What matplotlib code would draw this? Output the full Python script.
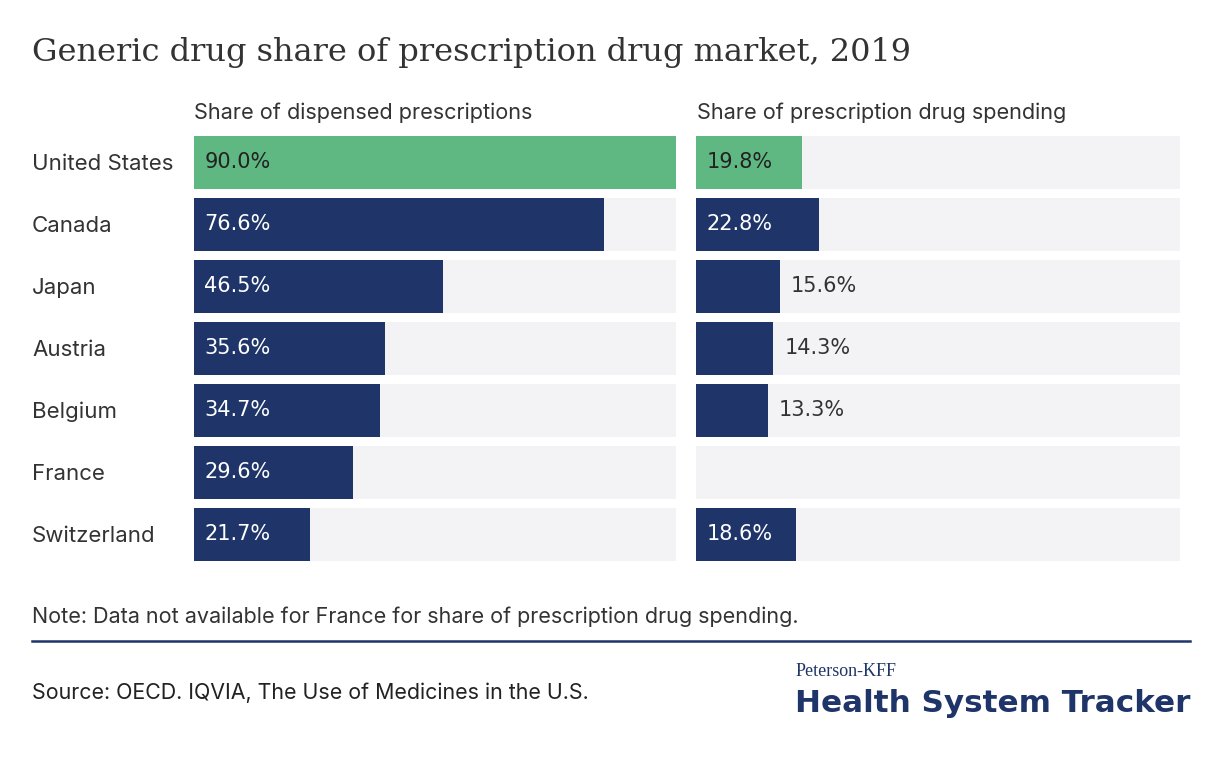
import matplotlib.pyplot as plt

countries = ['United States', 'Canada', 'Japan', 'Austria', 'Belgium', 'France', 'Switzerland']
dispensed = [90.0, 76.6, 46.5, 35.6, 34.7, 29.6, 21.7]
spending = [19.8, 22.8, 15.6, 14.3, 13.3, None, 18.6]

GREEN = '#5fb882'
NAVY = '#1f3569'
TRACK = '#f3f2f5'
TEXT = '#333333'
SANS = 'Inter'

W, H = 1220, 772
fig = plt.figure(figsize=(W / 100, H / 100), dpi=100)
fig.patch.set_facecolor('white')


def px_axes(x0, y0, x1, y1):
    return fig.add_axes([x0 / W, 1 - y1 / H, (x1 - x0) / W, (y1 - y0) / H])


def fy(y):
    return 1 - y / H


bar_h = 53 / 62
n = len(countries)


def panel(ax, values):
    ax.set_xlim(0, 90)
    ax.set_ylim(n - 1 + bar_h / 2, -bar_h / 2)
    ax.axis('off')
    for i, v in enumerate(values):
        ax.barh(i, 90, height=bar_h, color=TRACK, linewidth=0)
        if v is None:
            continue
        col = GREEN if i == 0 else NAVY
        ax.barh(i, v, height=bar_h, color=col, linewidth=0)
        if v >= 17:
            ax.text(1.9, i, f'{v:.1f}%', va='center', ha='left', fontsize=15,
                    color='#222222' if i == 0 else 'white', family='DejaVu Sans')
        else:
            ax.text(v + 2.1, i, f'{v:.1f}%', va='center', ha='left', fontsize=15,
                    color=TEXT, family='DejaVu Sans')


ax1 = px_axes(194, 136, 676, 561)
panel(ax1, dispensed)
ax2 = px_axes(696, 136, 1180, 561)
panel(ax2, spending)

fig.text(194 / W, fy(113), 'Share of dispensed prescriptions', ha='left', va='center',
         fontsize=15.6, color=TEXT, family=SANS)
fig.text(697 / W, fy(113), 'Share of prescription drug spending', ha='left', va='center',
         fontsize=15.6, color=TEXT, family=SANS)

for i, c in enumerate(countries):
    fig.text(32 / W, fy(164 + 62 * i), c, ha='left', va='center',
             fontsize=16, color=TEXT, family=SANS)

fig.text(32 / W, fy(53), 'Generic drug share of prescription drug market, 2019',
         ha='left', va='center', fontsize=23, color=TEXT, family='DejaVu Serif')

fig.text(32 / W, fy(617), 'Note: Data not available for France for share of prescription drug spending.',
         ha='left', va='center', fontsize=15.5, color=TEXT, family=SANS)
fig.add_artist(plt.Line2D([32 / W, 1190 / W], [fy(641), fy(641)], color=NAVY, lw=1.8))
fig.text(32 / W, fy(693), 'Source: OECD. IQVIA, The Use of Medicines in the U.S.',
         ha='left', va='center', fontsize=15.4, color='#222222', family=SANS)

fig.text(796 / W, fy(671), 'Peterson-KFF', ha='left', va='center', fontsize=13,
         color=NAVY, family='Liberation Serif')
fig.text(795 / W, fy(704), 'Health System Tracker', ha='left', va='center', fontsize=22.3,
         color=NAVY, family='DejaVu Sans', fontweight='bold')

fig.savefig('out.png', dpi=100, facecolor='white')
